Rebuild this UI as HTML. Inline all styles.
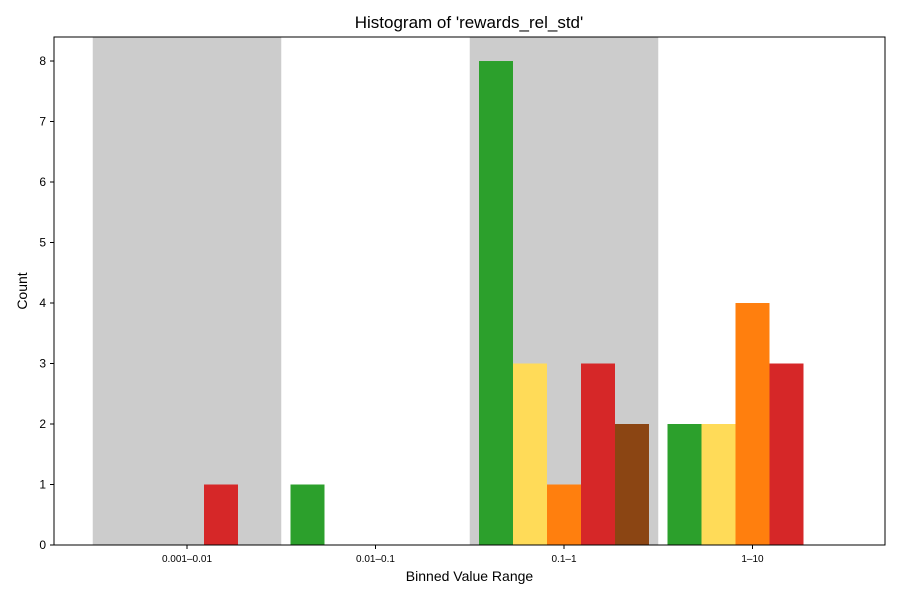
<!DOCTYPE html>
<html><head><meta charset="utf-8"><style>
body{margin:0;background:#fff;}
svg{display:block;font-family:"Liberation Sans","DejaVu Sans",sans-serif;}
</style></head><body>
<svg id="chart" width="900" height="600"></svg>
<script>
const categories = ["0.001\u20130.01","0.01\u20130.1","0.1\u20131","1\u201310"];
const seriesNames = ["green","yellow","orange","red","brown"];
const greenValues = [0,1,8,2];
const yellowValues = [0,0,3,2];
const orangeValues = [0,0,1,4];
const redValues = [1,0,3,3];
const brownValues = [0,0,2,0];
const yTicks = [0,1,2,3,4,5,6,7,8];
const seriesColors = ["#2ca02c","#ffdb58","#ff7f0e","#d62728","#8b4513"];
const allSeries = [greenValues,yellowValues,orangeValues,redValues,brownValues];

const NS="http://www.w3.org/2000/svg";
const svg=document.getElementById('chart');
const L=54,R=885,T=37,B=545,yMax=8.397;
const catStep=188.5, cat0=187, barW=34;
function xCat(i){return cat0+i*catStep;}
function yS(v){return B-(v/yMax)*(B-T);}
function mk(tag,attrs,parent){const e=document.createElementNS(NS,tag);for(const k in attrs)e.setAttribute(k,attrs[k]);(parent||svg).appendChild(e);return e;}

// gray bands
categories.forEach((c,i)=>{
  if(i%2===0){
    const r=mk('rect',{x:xCat(i)-catStep/2,y:T,width:catStep,height:B-T,fill:'#cccccc'});
    
    
  }
});
// bars
allSeries.forEach((vals,s)=>{
  vals.forEach((v,i)=>{
    if(v<=0)return;
    const x=xCat(i)-2.5*barW+s*barW;
    const r=mk('rect',{x:x,y:yS(v),width:barW,height:B-yS(v),fill:seriesColors[s]});
    
    
  });
});
// frame
const fr=mk('rect',{x:L,y:T,width:R-L,height:B-T,fill:'none',stroke:'#000','stroke-width':1});


// y ticks
yTicks.forEach(t=>{
  const y=yS(t);
  mk('line',{x1:L-4,x2:L,y1:y,y2:y,stroke:'#000'});
  const tx=mk('text',{x:L-8,y:y+4,'text-anchor':'end','font-size':12});
  tx.textContent=t;
  
  
});
// x ticks
categories.forEach((c,i)=>{
  const x=xCat(i);
  mk('line',{x1:x,x2:x,y1:B,y2:B+4,stroke:'#000'});
  const tx=mk('text',{x:x,y:B+17,'text-anchor':'middle','font-size':10});
  tx.textContent=c;
  
  
});
</script>
<svg width="0" height="0"></svg>
<div style="position:absolute;left:0;top:0;width:900px;height:600px;pointer-events:none;font-family:'Liberation Sans','DejaVu Sans',sans-serif;">
  <div style="position:absolute;left:0;width:938px;top:13px;text-align:center;font-size:17px;">Histogram of 'rewards_rel_std'</div>
  <div style="position:absolute;left:54px;width:831px;top:568px;text-align:center;font-size:14px;">Binned Value Range</div>
  <div style="position:absolute;left:22px;top:291px;font-size:14px;transform:translate(-50%,-50%) rotate(-90deg);white-space:nowrap;">Count</div>
</div>
</body></html>
